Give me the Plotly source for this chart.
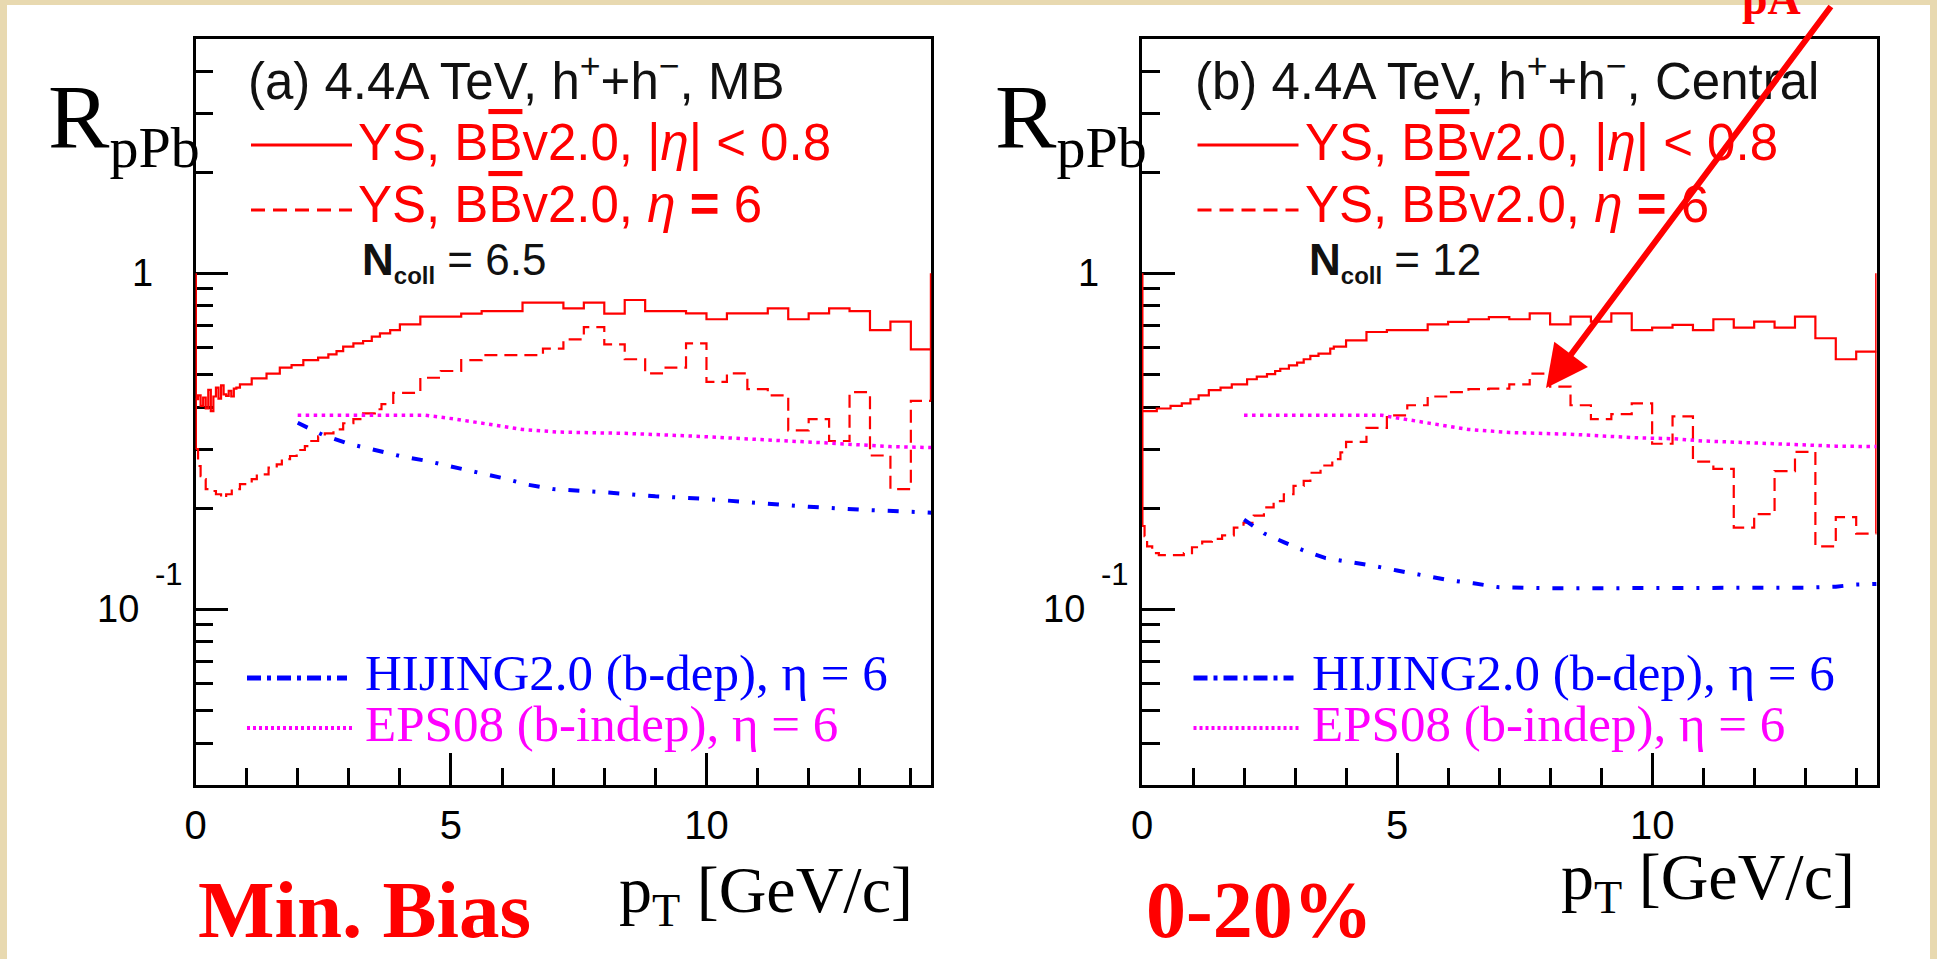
import numpy as np
import plotly.graph_objects as go

W, H = 1937, 959

# ---------------- data ----------------
PT_RANGE = [0.0, 14.4]
R_RANGE = [0.03, 5.0]
X_MAJOR = [0, 5, 10]
X_MAJOR_TEXT = ["0", "5", "10"]
X_MINOR = [1, 2, 3, 4, 6, 7, 8, 9, 11, 12, 13, 14]
Y_MAJOR = [0.1, 1.0]
Y_MINOR = [0.04, 0.05, 0.06, 0.07, 0.08, 0.09, 0.2, 0.3, 0.4, 0.5, 0.6, 0.7, 0.8, 0.9, 2, 3, 4]
EDGE_TOP = 1.0

mb_mid_edges = [0.0, 0.05, 0.10, 0.15, 0.20, 0.25, 0.30, 0.35, 0.40, 0.45, 0.50, 0.55, 0.60, 0.65,
                0.70, 0.75, 0.80, 0.87, 1.10, 1.39, 1.65, 1.88, 2.11, 2.40, 2.60, 2.76, 2.89, 3.09,
                3.28, 3.45, 3.61, 3.81, 4.0, 4.4, 4.8, 5.2, 5.6, 6.0, 6.4, 6.8, 7.2, 7.6, 8.0, 8.4,
                8.8, 9.2, 9.6, 10.0, 10.4, 10.8, 11.2, 11.6, 12.0, 12.4, 12.8, 13.2, 13.6, 14.0, 14.4]
mb_mid_vals = [0.422, 0.433, 0.403, 0.427, 0.396, 0.450, 0.389, 0.430, 0.457, 0.424, 0.464, 0.436,
               0.432, 0.447, 0.430, 0.454, 0.457, 0.467, 0.487, 0.503, 0.524, 0.533, 0.552, 0.561,
               0.574, 0.587, 0.605, 0.619, 0.629, 0.648, 0.663, 0.678, 0.705, 0.743, 0.743, 0.759,
               0.772, 0.772, 0.818, 0.818, 0.787, 0.818, 0.759, 0.833, 0.772, 0.772, 0.760, 0.730,
               0.760, 0.760, 0.787, 0.730, 0.760, 0.787, 0.772, 0.678, 0.718, 0.594]

mb_fwd_edges = [0.0, 0.05, 0.10, 0.15, 0.20, 0.30, 0.40, 0.50, 0.60, 0.71, 0.87, 1.10, 1.20, 1.43,
                1.59, 1.69, 1.85, 1.98, 2.14, 2.24, 2.40, 2.53, 2.70, 2.89, 3.09, 3.28, 3.51, 3.64,
                3.87, 4.4, 4.8, 5.2, 5.6, 6.0, 6.4, 6.8, 7.2, 7.6, 8.0, 8.4, 8.8, 9.2, 9.6, 10.0,
                10.4, 10.8, 11.2, 11.6, 12.0, 12.4, 12.8, 13.2, 13.6, 14.0, 14.4]
mb_fwd_vals = [0.300, 0.267, 0.249, 0.244, 0.228, 0.225, 0.220, 0.215, 0.220, 0.228, 0.236, 0.244,
               0.252, 0.264, 0.270, 0.280, 0.286, 0.298, 0.306, 0.317, 0.327, 0.334, 0.343, 0.358,
               0.368, 0.383, 0.394, 0.408, 0.441, 0.489, 0.512, 0.552, 0.571, 0.571, 0.571, 0.597,
               0.636, 0.692, 0.615, 0.555, 0.504, 0.524, 0.619, 0.475, 0.504, 0.452, 0.433, 0.341,
               0.368, 0.317, 0.443, 0.287, 0.228, 0.417]

mb_hij_pt = [2.0, 2.5, 3.0, 3.5, 4.0, 4.5, 5.0, 5.5, 6.0, 6.5, 7.0, 8.0, 9.0, 10.0, 11.0, 12.0, 13.0, 14.0, 14.4]
mb_hij_r = [0.359, 0.330, 0.311, 0.298, 0.286, 0.277, 0.266, 0.257, 0.246, 0.235, 0.228, 0.223, 0.217,
            0.213, 0.207, 0.202, 0.198, 0.195, 0.194]

mb_eps_pt = [2.0, 3.0, 4.5, 5.1, 5.8, 6.4, 7.1, 8.4, 9.7, 11.0, 12.3, 13.6, 14.4]
mb_eps_r = [0.378, 0.378, 0.378, 0.368, 0.355, 0.343, 0.337, 0.334, 0.328, 0.321, 0.313, 0.305, 0.303]

c_mid_edges = [0.0, 0.29, 0.56, 0.78, 0.95, 1.11, 1.31, 1.54, 1.76, 2.06, 2.25, 2.45, 2.61, 2.71,
               2.88, 3.04, 3.17, 3.30, 3.46, 3.69, 3.76, 4.0, 4.4, 4.8, 5.2, 5.6, 6.0, 6.4, 6.8,
               7.2, 7.6, 8.0, 8.4, 8.8, 9.2, 9.6, 10.0, 10.4, 10.8, 11.2, 11.6, 12.0, 12.4, 12.8,
               13.2, 13.6, 14.0, 14.4]
c_mid_vals = [0.389, 0.396, 0.403, 0.410, 0.422, 0.433, 0.449, 0.457, 0.467, 0.484, 0.493, 0.501,
              0.512, 0.520, 0.532, 0.542, 0.555, 0.568, 0.577, 0.597, 0.605, 0.632, 0.669, 0.678,
              0.678, 0.705, 0.717, 0.730, 0.741, 0.730, 0.760, 0.705, 0.743, 0.718, 0.760, 0.678,
              0.689, 0.702, 0.678, 0.730, 0.689, 0.718, 0.689, 0.743, 0.641, 0.555, 0.585]

c_fwd_edges = [0.0, 0.05, 0.10, 0.20, 0.33, 0.82, 0.98, 1.18, 1.37, 1.57, 1.80, 1.99, 2.19, 2.39,
               2.58, 2.78, 2.97, 3.17, 3.30, 3.50, 3.73, 3.89, 4.0, 4.4, 4.8, 5.2, 5.6, 6.0, 6.4,
               6.8, 7.2, 7.6, 8.0, 8.4, 8.8, 9.2, 9.6, 10.0, 10.4, 10.8, 11.2, 11.6, 12.0, 12.4,
               12.8, 13.2, 13.6, 14.0, 14.4]
c_fwd_vals = [0.177, 0.165, 0.154, 0.147, 0.145, 0.147, 0.153, 0.159, 0.162, 0.166, 0.175, 0.181,
              0.190, 0.201, 0.210, 0.220, 0.233, 0.241, 0.255, 0.268, 0.280, 0.293, 0.315, 0.347,
              0.378, 0.405, 0.430, 0.443, 0.452, 0.454, 0.467, 0.503, 0.460, 0.405, 0.368, 0.381,
              0.410, 0.311, 0.375, 0.275, 0.262, 0.175, 0.192, 0.258, 0.294, 0.154, 0.188, 0.168]

c_hij_pt = [2.0, 2.4, 2.8, 3.2, 3.6, 4.0, 4.5, 5.0, 5.5, 6.0, 6.5, 7.0, 8.0, 9.0, 10.0, 11.0, 12.0,
            13.0, 13.6, 14.0, 14.4]
c_hij_r = [0.185, 0.168, 0.158, 0.149, 0.142, 0.139, 0.135, 0.1305, 0.1265, 0.1222, 0.1195, 0.1163,
           0.1155, 0.1155, 0.1155, 0.1155, 0.1157, 0.1160, 0.1168, 0.1185, 0.119]

c_eps_pt = [2.0, 3.0, 4.7, 5.1, 5.8, 6.4, 7.2, 8.4, 9.7, 10.4, 11.0, 12.3, 13.6, 14.4]
c_eps_r = [0.378, 0.378, 0.378, 0.369, 0.355, 0.343, 0.336, 0.332, 0.324, 0.322, 0.317, 0.312, 0.306, 0.305]

# ---------------- styling ----------------
RED, BLUE, MAG = "#ff0000", "#0000ff", "#ff00ff"
SANS = "Liberation Sans, Arial, sans-serif"
SERIF = "Liberation Serif, Times New Roman, serif"
BEIGE = "#e8d9b0"

DASH_RED = "13px,7px"
DASH_BLUE = "11px,13px,3px,13px"
DASH_MAG = "3.5px,4.5px"

X_DOM_A = [195.5 / W, 931.3 / W]
X_DOM_B = [1142.0 / W, 1876.6 / W]
Y_DOM = [1 - 785.0 / H, 1 - 38.5 / H]
PANEL_DX = 1142.0 - 195.5


def step(edges, vals):
    return list(edges), list(vals) + [vals[-1]]


fig = go.Figure()


def add_panel(xa, ya, mid_e, mid_v, fwd_e, fwd_v, hij_x, hij_y, eps_x, eps_y):
    x, y = step(mid_e, mid_v)
    fig.add_trace(go.Scatter(x=x, y=y, mode="lines", line=dict(color=RED, width=2.2, shape="hv"),
                             xaxis=xa, yaxis=ya, showlegend=False, hoverinfo="skip"))
    x, y = step(fwd_e, fwd_v)
    fig.add_trace(go.Scatter(x=x, y=y, mode="lines",
                             line=dict(color=RED, width=2.2, shape="hv", dash=DASH_RED),
                             xaxis=xa, yaxis=ya, showlegend=False, hoverinfo="skip"))
    fig.add_trace(go.Scatter(x=[fwd_e[0], fwd_e[0], None, fwd_e[-1], fwd_e[-1]],
                             y=[EDGE_TOP, fwd_v[0], None, fwd_v[-1], EDGE_TOP], mode="lines",
                             line=dict(color=RED, width=3), xaxis=xa, yaxis=ya,
                             showlegend=False, hoverinfo="skip"))
    fig.add_trace(go.Scatter(x=hij_x, y=hij_y, mode="lines",
                             line=dict(color=BLUE, width=4, dash=DASH_BLUE),
                             xaxis=xa, yaxis=ya, showlegend=False, hoverinfo="skip"))
    fig.add_trace(go.Scatter(x=eps_x, y=eps_y, mode="lines",
                             line=dict(color=MAG, width=3.5, dash=DASH_MAG),
                             xaxis=xa, yaxis=ya, showlegend=False, hoverinfo="skip"))


add_panel("x", "y", mb_mid_edges, mb_mid_vals, mb_fwd_edges, mb_fwd_vals,
          mb_hij_pt, mb_hij_r, mb_eps_pt, mb_eps_r)
add_panel("x2", "y2", c_mid_edges, c_mid_vals, c_fwd_edges, c_fwd_vals,
          c_hij_pt, c_hij_r, c_eps_pt, c_eps_r)


def xaxis_cfg(domain, anchor):
    return dict(domain=domain, anchor=anchor, range=PT_RANGE, showgrid=False, zeroline=False,
                automargin=False,
                showline=True, linecolor="black", linewidth=2.5, mirror=True,
                tickmode="array", tickvals=X_MAJOR, ticktext=X_MAJOR_TEXT,
                ticks="inside", ticklen=32, tickwidth=2.5, tickcolor="black",
                ticklabelstandoff=3,
                tickfont=dict(family=SANS, size=40, color="black"),
                minor=dict(tickmode="array", tickvals=X_MINOR, ticks="inside", ticklen=17,
                           tickwidth=2.5, tickcolor="black", showgrid=False),
                layer="below traces")


def yaxis_cfg(anchor):
    return dict(domain=Y_DOM, anchor=anchor, type="log", automargin=False,
                range=[np.log10(R_RANGE[0]), np.log10(R_RANGE[1])],
                showgrid=False, zeroline=False, showline=True, linecolor="black", linewidth=2.5,
                mirror=True, tickmode="array", tickvals=Y_MAJOR, showticklabels=False,
                ticks="inside", ticklen=33, tickwidth=2.5, tickcolor="black",
                minor=dict(tickmode="array", tickvals=Y_MINOR, ticks="inside", ticklen=18,
                           tickwidth=2.5, tickcolor="black", showgrid=False),
                layer="below traces")


def P(x, y):
    return x / W, 1 - y / H


annotations = []
shapes = []


def text(t, x, y, size, color, family, xanchor="left", yanchor="middle"):
    px, py = P(x, y)
    annotations.append(dict(text=t, x=px, y=py, xref="paper", yref="paper", xanchor=xanchor,
                            yanchor=yanchor, showarrow=False,
                            font=dict(size=size, color=color, family=family)))


def sample(x0, x1, y, color, width, dash):
    px0, py = P(x0, y)
    px1, _ = P(x1, y)
    shapes.append(dict(type="line", xref="paper", yref="paper", x0=px0, x1=px1, y0=py, y1=py,
                       line=dict(color=color, width=width, dash=dash)))


shapes.append(dict(type="rect", xref="paper", yref="paper", x0=7 / W, x1=1930 / W, y0=0, y1=1 - 5 / H,
                   fillcolor="white", line=dict(width=0), layer="below"))

BBAR = "B<span style='text-decoration:overline'>B</span>"
panels = [
    ("(a) 4.4A TeV, h<sup>+</sup>+h<sup>\u2212</sup>, MB", "6.5", "x", "y", 0.0),
    ("(b) 4.4A TeV, h<sup>+</sup>+h<sup>\u2212</sup>, Central", "12", "x2", "y2", PANEL_DX),
]
for title, ncoll, xa, ya, dx in panels:
    text(title, 246 + dx, 78, 51, "#111111", SANS)
    sample(251 + dx, 352 + dx, 145, RED, 3, "solid")
    text("YS, " + BBAR + "v2.0, |<i>\u03b7</i>| &lt; 0.8", 356 + dx, 142, 51, RED, SANS)
    sample(251 + dx, 352 + dx, 210, RED, 3, "14px,8px")
    text("YS, " + BBAR + "v2.0, <i>\u03b7</i> <b>=</b> 6", 356 + dx, 205, 51, RED, SANS)
    text("<b>N<sub><span style='font-size:24px'>coll</span></sub></b> = " + ncoll, 360 + dx, 262,
         44, "#111111", SANS)
    sample(247 + dx, 347 + dx, 678, BLUE, 5, "14px,6px,4px,6px")
    text("HIJING2.0 (b-dep), \u03b7 = 6", 363 + dx, 673, 51, BLUE, SERIF)
    sample(247 + dx, 353 + dx, 728, MAG, 4, "3px,3px")
    text("EPS08 (b-indep), \u03b7 = 6", 363 + dx, 724, 51, MAG, SERIF)
    text("R<sub><span style='font-size:58px'>pPb</span></sub>", 46 + dx, 64, 92, "black", SERIF,
         yanchor="top")
    annotations.append(dict(text="1", xref=xa + " domain", x=0, yref=ya, y=np.log10(Y_MAJOR[1]),
                            xanchor="right", yanchor="middle", xshift=-41, showarrow=False,
                            font=dict(size=38, family=SANS, color="black")))
    annotations.append(dict(text="10", xref=xa + " domain", x=0, yref=ya, y=np.log10(Y_MAJOR[0]),
                            xanchor="right", yanchor="middle", xshift=-55, showarrow=False,
                            font=dict(size=38, family=SANS, color="black")))
    annotations.append(dict(text="-1", xref=xa + " domain", x=0, yref=ya, y=np.log10(Y_MAJOR[0]),
                            xanchor="left", yanchor="middle", xshift=-43, yshift=35, showarrow=False,
                            font=dict(size=31, family=SANS, color="black")))

text("p<sub>T</sub> [GeV/c]", 617, 894, 66, "black", SERIF)
text("p<sub>T</sub> [GeV/c]", 1559, 881, 66, "black", SERIF)
text("<b>Min. Bias</b>", 196, 910, 81, RED, SERIF)
text("<b>0-20%</b>", 1144, 910, 80, RED, SERIF)
text("<b>pA</b>", 1771, 26, 46, RED, SERIF, xanchor="center", yanchor="bottom")

tip_x, tip_y = P(1546, 388)
annotations.append(dict(text="", x=tip_x, y=tip_y, xref="paper", yref="paper", showarrow=True,
                        ax=1832 - 1546, ay=5 - 388, axref="pixel", ayref="pixel",
                        arrowhead=2, arrowsize=1.4, arrowwidth=6, arrowcolor=RED, standoff=0))

fig.update_layout(
    width=W, height=H, margin=dict(l=0, r=0, t=0, b=0, pad=0, autoexpand=False),
    paper_bgcolor=BEIGE, plot_bgcolor="white",
    xaxis=xaxis_cfg(X_DOM_A, "y"), yaxis=yaxis_cfg("x"),
    xaxis2=xaxis_cfg(X_DOM_B, "y2"), yaxis2=yaxis_cfg("x2"),
    annotations=annotations, shapes=shapes, showlegend=False,
)

fig.write_html("out.html", config={"displayModeBar": False},
               post_script="document.body.style.margin='0px';")
